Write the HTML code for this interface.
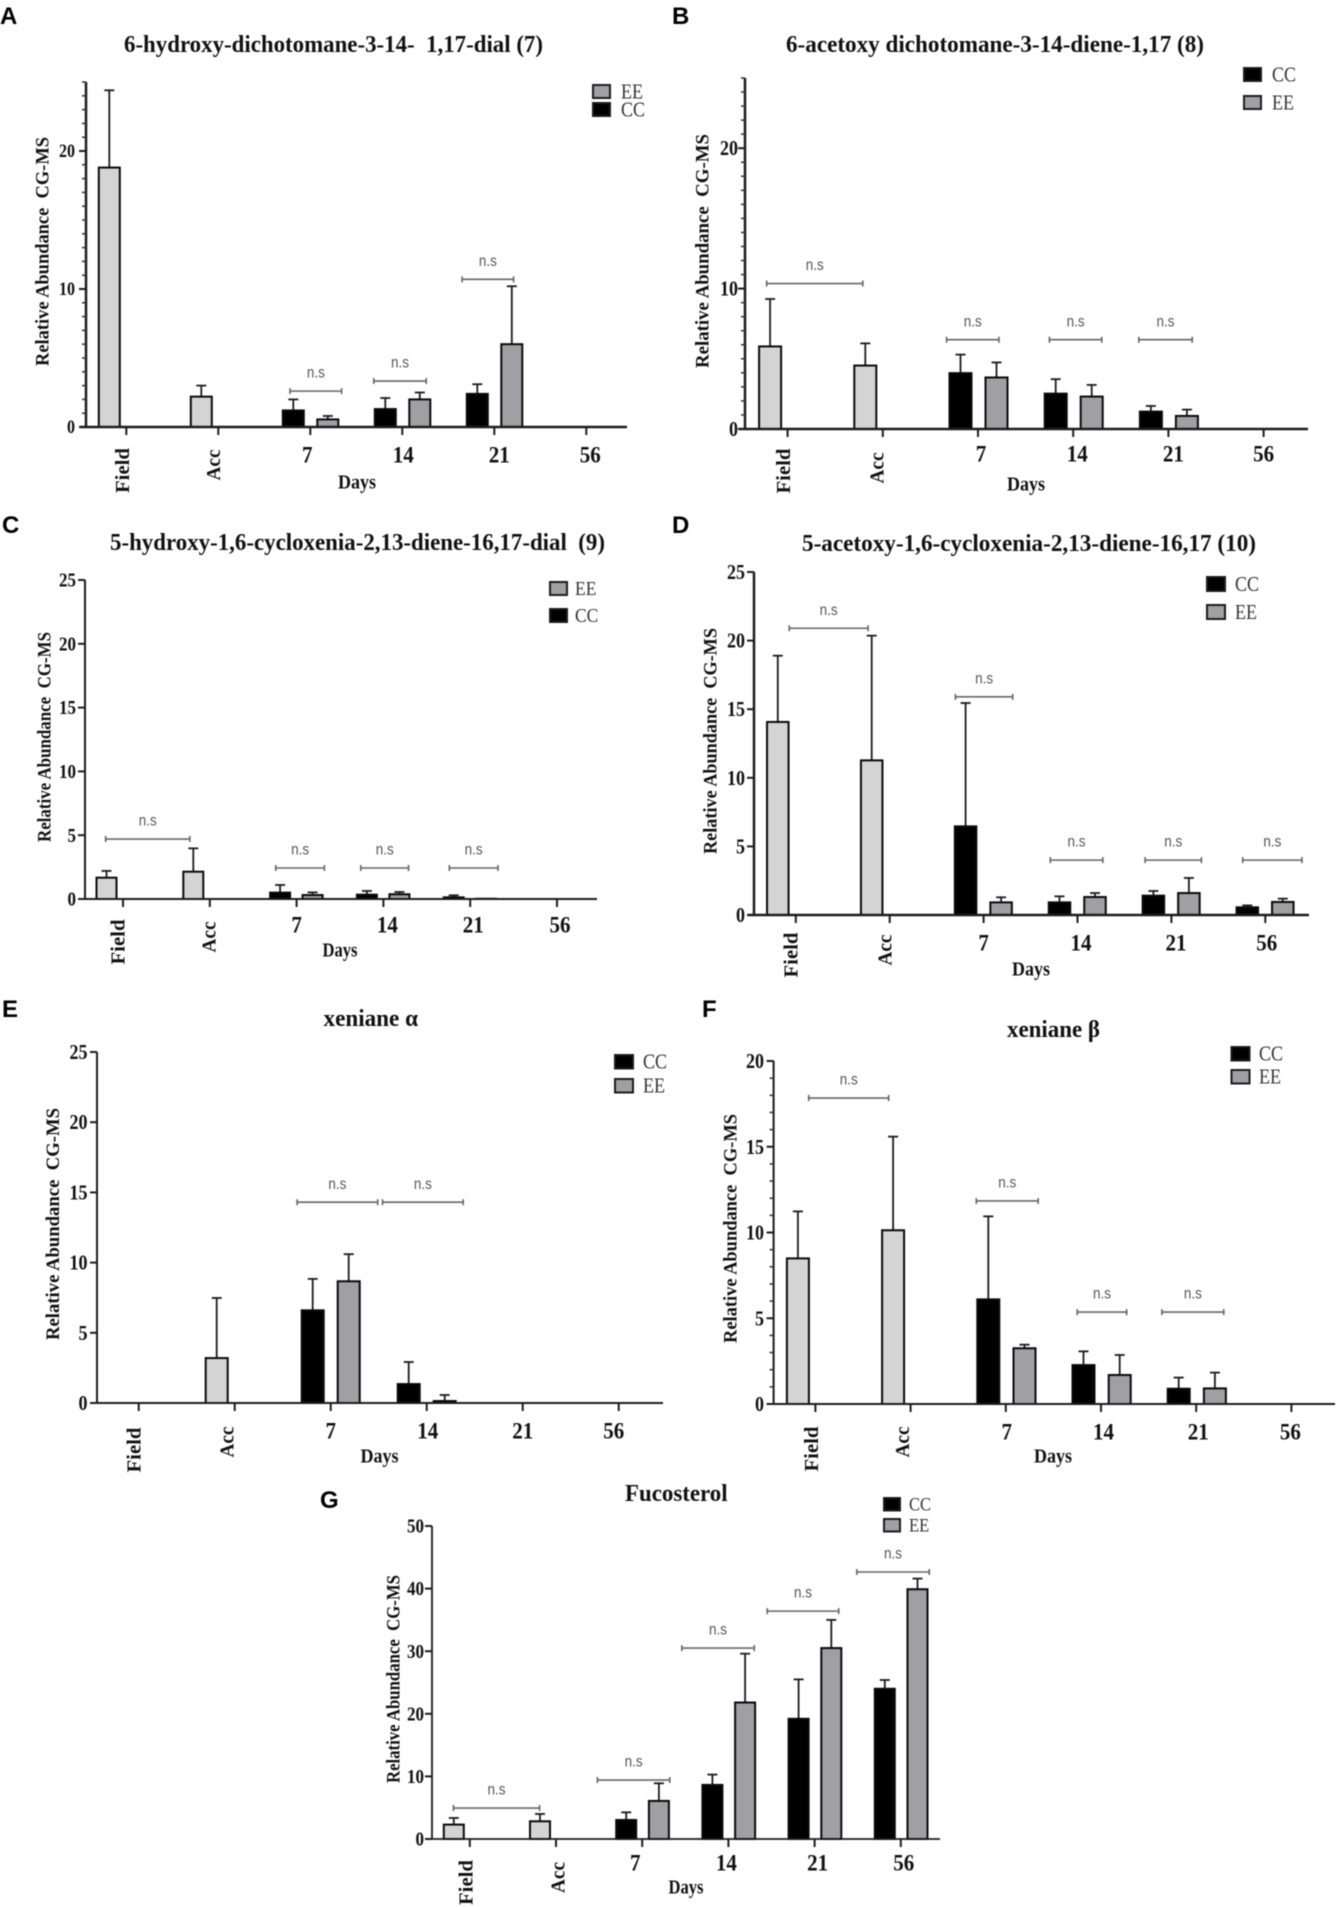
<!DOCTYPE html>
<html lang="en">
<head>
<meta charset="utf-8">
<title>Relative abundance of compounds by CG-MS</title>
<style>
  html, body { margin: 0; padding: 0; background: #fff; }
  #figure { display: block; width: 1338px; height: 1907px; background: #fff; filter: blur(0.5px); }
  text { font-family: "Liberation Serif", serif; }
</style>
</head>
<body>
<svg id="figure" xmlns="http://www.w3.org/2000/svg" width="1338" height="1907" viewBox="0 0 1338 1907"></svg>
<script>
// ---- Shared categories ----
const categories = ['Field', 'Acc', '7', '14', '21', '56'];

// ---- Panel A values ----
const aCC = [18.8, 2.2, 1.2, 1.3, 2.4, null];
const aCCTop = [24.4, 3.0, 2.0, 2.1, 3.1, null];
const aEE = [null, null, 0.55, 2.0, 6.0, null];
const aEETop = [null, null, 0.8, 2.5, 10.2, null];
const aBrackets = [[1.78, 2.34, 2.6], [2.69, 3.26, 3.33], [3.65, 4.21, 10.7]];
const aTicks = [0, 10, 20];

// ---- Panel B values ----
const bCC = [5.88, 4.52, 3.98, 2.52, 1.24, null];
const bCCTop = [9.26, 6.1, 5.3, 3.55, 1.64, null];
const bEE = [null, null, 3.67, 2.31, 0.93, null];
const bEETop = [null, null, 4.74, 3.14, 1.38, null];
const bBrackets = [[-0.22, 0.79, 10.36], [1.67, 2.22, 6.36], [2.75, 3.30, 6.36], [3.69, 4.25, 6.36]];
const bTicks = [0, 10, 20];

// ---- Panel C values ----
const cCC = [1.67, 2.14, 0.5, 0.34, 0.13, null];
const cCCTop = [2.2, 3.97, 1.1, 0.63, 0.29, null];
const cEE = [null, null, 0.31, 0.37, 0.02, null];
const cEETop = [null, null, 0.52, 0.55, null, null];
const cBrackets = [[-0.2, 0.77, 4.7], [1.76, 2.32, 2.43], [2.74, 3.29, 2.43], [3.76, 4.32, 2.43]];
const cTicks = [0, 5, 10, 15, 20, 25];

// ---- Panel D values ----
const dCC = [14.07, 11.27, 6.46, 0.92, 1.41, 0.56];
const dCCTop = [18.9, 20.36, 15.45, 1.36, 1.75, 0.7];
const dEE = [null, null, 0.92, 1.31, 1.6, 0.95];
const dEETop = [null, null, 1.29, 1.6, 2.7, 1.19];
const dBrackets = [[-0.07, 0.77, 20.9], [1.70, 2.31, 15.9], [2.71, 3.27, 4.0], [3.72, 4.32, 4.0], [4.76, 5.39, 4.0]];
const dTicks = [0, 5, 10, 15, 20, 25];

// ---- Panel E values ----
const eCC = [null, 3.2, 6.6, 1.35, null, null];
const eCCTop = [null, 7.48, 8.84, 2.92, null, null];
const eEE = [null, null, 8.67, 0.14, null, null];
const eEETop = [null, null, 10.6, 0.57, null, null];
const eBrackets = [[1.65, 2.49, 14.3], [2.54, 3.38, 14.3]];
const eTicks = [0, 5, 10, 15, 20, 25];

// ---- Panel F values ----
const fCC = [8.49, 10.13, 6.1, 2.27, 0.89, null];
const fCCTop = [11.23, 15.59, 10.94, 3.07, 1.54, null];
const fEE = [null, null, 3.25, 1.69, 0.91, null];
const fEETop = [null, null, 3.46, 2.86, 1.83, null];
const fBrackets = [[-0.07, 0.77, 17.84], [1.69, 2.34, 11.84], [2.75, 3.27, 5.36], [3.64, 4.29, 5.36]];
const fTicks = [0, 5, 10, 15, 20];

// ---- Panel G values ----
const gCC = [2.3, 2.83, 3.04, 8.64, 19.2, 24];
const gCCTop = [3.36, 4.0, 4.26, 10.29, 25.5, 25.4];
const gEE = [null, null, 6.08, 21.8, 30.5, 39.9];
const gEETop = [null, null, 8.9, 29.6, 35, 41.6];
const gBrackets = [[-0.19, 0.81, 4.95], [1.48, 2.32, 9.42], [2.46, 3.30, 30.5], [3.45, 4.28, 36.4], [4.49, 5.33, 42.65]];
const gTicks = [0, 10, 20, 30, 40, 50];

// ---- Panel definitions (data references plus page layout) ----
const panels = [
  { key: 'a', letter: 'A', lx: 0, ly: 24, title: '6-hydroxy-dichotomane-3-14-  1,17-dial (7)', tx0: 124, tx1: 543, ty: 44,
    cc: aCC, ccTop: aCCTop, ee: aEE, eeTop: aEETop, brackets: aBrackets, ticks: aTicks, ymax: 25, minor: 1,
    axisX: 86, top: 82, y0: 427, xL: 80, xR: 627, tick0: 126.3, sp: 92, offL: 17, offR: 17.5, bw: 21, sw: 2.5,
    yl: { x: 42, y0: 137, y1: 366 }, tickFont: 16, tickRight: 75,
    labOff: [-4, -5, -3, 1, 5, 4], fieldY: 470.5, accY: 465, numY: 455, days: { x: 357, y: 482, w: 38 },
    legend: { order: ['EE', 'CC'], sx: 593, sw: 17, sy: [85, 103], sh: 13, tx: 621, font: 18 } },
  { key: 'b', letter: 'B', lx: 672, ly: 24, title: '6-acetoxy dichotomane-3-14-diene-1,17 (8)', tx0: 786, tx1: 1204, ty: 44,
    cc: bCC, ccTop: bCCTop, ee: bEE, eeTop: bEETop, brackets: bBrackets, ticks: bTicks, ymax: 25, minor: 1,
    axisX: 745, top: 78, y0: 429, xL: 739, xR: 1308, tick0: 787.6, sp: 95.2, offL: 17.5, offR: 18.5, bw: 22, sw: 2.5,
    yl: { x: 702, y0: 134, y1: 368 }, tickFont: 18, tickRight: 738,
    labOff: [-4, -6, 3, 4, 5, 0], fieldY: 471, accY: 468, numY: 454, days: { x: 1026, y: 484, w: 38 },
    legend: { order: ['CC', 'EE'], sx: 1244, sw: 17, sy: [68, 96], sh: 13, tx: 1272, font: 18 } },
  { key: 'c', letter: 'C', lx: 2, ly: 533, title: '5-hydroxy-1,6-cycloxenia-2,13-diene-16,17-dial  (9)', tx0: 110, tx1: 605, ty: 542,
    cc: cCC, ccTop: cCCTop, ee: cEE, eeTop: cEETop, brackets: cBrackets, ticks: cTicks, ymax: 25, minor: null,
    axisX: 85, top: 580, y0: 899, xL: 79, xR: 597, tick0: 123, sp: 86.8, offL: 16.5, offR: 16, bw: 20, sw: 2,
    yl: { x: 44, y0: 632, y1: 842 }, tickFont: 17, tickRight: 76,
    labOff: [-5, -1, 0, 4, 3, 3], fieldY: 942, accY: 937, numY: 925, days: { x: 340, y: 950, w: 35 },
    legend: { order: ['EE', 'CC'], sx: 550, sw: 17, sy: [582, 609], sh: 13, tx: 575, font: 17.5 } },
  { key: 'd', letter: 'D', lx: 672, ly: 533, title: '5-acetoxy-1,6-cycloxenia-2,13-diene-16,17 (10)', tx0: 802, tx1: 1256, ty: 543,
    cc: dCC, ccTop: dCCTop, ee: dEE, eeTop: dEETop, brackets: dBrackets, ticks: dTicks, ymax: 25, minor: null,
    axisX: 754, top: 572, y0: 915, xL: 748, xR: 1309, tick0: 795.8, sp: 93.9, offL: 18, offR: 17.5, bw: 21.5, sw: 2.5,
    yl: { x: 710, y0: 628, y1: 854 }, tickFont: 18, tickRight: 745,
    labOff: [-5, -5, 0, 3.5, 4.6, 1.5], fieldY: 955, accY: 950, numY: 943, days: { x: 1031, y: 969, w: 38 },
    legend: { order: ['CC', 'EE'], sx: 1207, sw: 18, sy: [577, 605], sh: 14, tx: 1235, font: 18 } },
  { key: 'e', letter: 'E', lx: 2, ly: 1017, title: 'xeniane α', tx0: 323.5, tx1: 418, ty: 1018,
    cc: eCC, ccTop: eCCTop, ee: eEE, eeTop: eEETop, brackets: eBrackets, ticks: eTicks, ymax: 25, minor: null,
    axisX: 97, top: 1052, y0: 1403, xL: 91, xR: 663, tick0: 138.7, sp: 96, offL: 18, offR: 18, bw: 22, sw: 2,
    yl: { x: 52.5, y0: 1108, y1: 1340 }, tickFont: 18, tickRight: 87.5,
    labOff: [-5, -8, 0, 1, 0, -5], fieldY: 1450, accY: 1442, numY: 1431, days: { x: 379.5, y: 1456, w: 38 },
    legend: { order: ['CC', 'EE'], sx: 615, sw: 18, sy: [1055, 1079], sh: 13.5, tx: 643, font: 18 } },
  { key: 'f', letter: 'F', lx: 702, ly: 1017, title: 'xeniane β', tx0: 1007, tx1: 1100, ty: 1029,
    cc: fCC, ccTop: fCCTop, ee: fEE, eeTop: fEETop, brackets: fBrackets, ticks: fTicks, ymax: 20, minor: 1,
    axisX: 773.6, top: 1061, y0: 1404, xL: 767, xR: 1335, tick0: 815.4, sp: 95.2, offL: 17.5, offR: 18.7, bw: 22, sw: 2,
    yl: { x: 730, y0: 1114, y1: 1343 }, tickFont: 18, tickRight: 764,
    labOff: [-4, -8, 1, 2.5, 2, -1], fieldY: 1449, accY: 1442, numY: 1432, days: { x: 1053, y: 1456, w: 38 },
    legend: { order: ['CC', 'EE'], sx: 1231.5, sw: 18, sy: [1047, 1070], sh: 13.5, tx: 1259, font: 18 } },
  { key: 'g', letter: 'G', lx: 320, ly: 1508, title: 'Fucosterol', tx0: 625, tx1: 727.6, ty: 1493,
    cc: gCC, ccTop: gCCTop, ee: gEE, eeTop: gEETop, brackets: gBrackets, ticks: gTicks, ymax: 50, minor: null,
    axisX: 432, top: 1526, y0: 1839, xL: 426, xR: 940, tick0: 469.8, sp: 86.2, offL: 16, offR: 16.7, bw: 20, sw: 1.8,
    yl: { x: 393.4, y0: 1575, y1: 1783 }, tickFont: 17, tickRight: 424,
    labOff: [-4, 2, -7, -2, 3, 3], fieldY: 1882.5, accY: 1877.5, numY: 1863, days: { x: 686, y: 1887, w: 35 },
    legend: { order: ['CC', 'EE'], sx: 884, sw: 16, sy: [1498, 1519], sh: 12.5, tx: 909, font: 16.5 } }
];

const NS = 'http://www.w3.org/2000/svg';
const figure = document.getElementById('figure');
const COLOR_CC = '#000000';
const COLOR_EE = '#a0a0a4';
const COLOR_BASE = '#d4d4d4';

function mk(tag, attrs, parent, text) {
  const el = document.createElementNS(NS, tag);
  for (const k in attrs) el.setAttribute(k, attrs[k]);
  if (text !== undefined) el.textContent = text;
  parent.appendChild(el);
  return el;
}

function drawBar(g, p, x, value, top, fill, label) {
  const yScale = v => p.y0 - v * (p.y0 - p.top) / p.ymax;
  if (top !== null) {
    const ew = mk('line', { x1: x, x2: x, y1: yScale(value), y2: yScale(top), stroke: '#1c1c1c', 'stroke-width': 1.8 }, g);
    
    
    const cap = mk('line', { x1: x - 5, x2: x + 5, y1: yScale(top), y2: yScale(top), stroke: '#1c1c1c', 'stroke-width': 1.8 }, g);
    
    
  }
  const bar = mk('rect', { x: x - p.bw / 2, y: yScale(value), width: p.bw, height: Math.max(0, p.y0 - yScale(value)), fill: fill, stroke: '#0a0a0a', 'stroke-width': 2 }, g);
  
  
}

function drawPanel(p) {
  const xScale = i => p.tick0 + i * p.sp;
  const yScale = v => p.y0 - v * (p.y0 - p.top) / p.ymax;

  const g = mk('g', {}, figure);
  
  

  const letter = mk('text', { x: p.lx, y: p.ly, 'font-size': 24, 'font-weight': 700, fill: '#000', style: 'font-family:"Liberation Sans",sans-serif' }, g, p.letter);
  
  

  const title = mk('text', { x: p.tx0, y: p.ty, dy: '0.33em', 'font-size': 24, 'font-weight': 700, fill: '#111', textLength: p.tx1 - p.tx0, lengthAdjust: 'spacingAndGlyphs', style: 'white-space:pre' }, g, p.title);
  
  

  // y-axis
  const yAxis = mk('line', { x1: p.axisX, x2: p.axisX, y1: p.top, y2: p.y0, stroke: '#1c1c1c', 'stroke-width': p.sw }, g);
  
  

  if (p.minor) {
    for (let v = 0; v <= p.ymax; v += p.minor) {
      const mt = mk('line', { x1: p.axisX - 4, x2: p.axisX, y1: yScale(v), y2: yScale(v), stroke: '#333', 'stroke-width': 1.5 }, g);
      
      
    }
  }
  p.ticks.forEach(v => {
    const t = mk('line', { x1: p.axisX - 7, x2: p.axisX, y1: yScale(v), y2: yScale(v), stroke: '#1c1c1c', 'stroke-width': 2 }, g);
    
    
    const lab = mk('text', { x: p.tickRight, y: yScale(v), dy: '0.33em', 'text-anchor': 'end', 'font-size': p.tickFont * 1.18, 'font-weight': 700, fill: '#111', textLength: String(v).length * 0.5 * p.tickFont, lengthAdjust: 'spacingAndGlyphs' }, g, String(v));
    
    
  });

  // y-axis title
  const ylx = p.yl.x;
  const yly = (p.yl.y0 + p.yl.y1) / 2;
  const yTitle = mk('text', { x: ylx, y: yly, dy: '0.33em', 'text-anchor': 'middle', 'font-size': 19, 'font-weight': 700, fill: '#111', textLength: p.yl.y1 - p.yl.y0, lengthAdjust: 'spacingAndGlyphs', transform: 'rotate(-90 ' + ylx + ' ' + yly + ')', style: 'white-space:pre' }, g, 'Relative Abundance  CG-MS');
  
  

  // bars and error bars
  categories.forEach((cat, i) => {
    if (p.cc[i] !== null) {
      drawBar(g, p, xScale(i) - p.offL, p.cc[i], p.ccTop[i], i < 2 ? COLOR_BASE : COLOR_CC, 'cc-' + cat.toLowerCase());
    }
    if (p.ee[i] !== null) {
      drawBar(g, p, xScale(i) + p.offR, p.ee[i], p.eeTop[i], COLOR_EE, 'ee-' + cat.toLowerCase());
    }
  });

  // x-axis
  const xAxis = mk('line', { x1: p.xL, x2: p.xR, y1: p.y0, y2: p.y0, stroke: '#1c1c1c', 'stroke-width': p.sw }, g);
  
  

  categories.forEach((cat, i) => {
    const t = mk('line', { x1: xScale(i), x2: xScale(i), y1: p.y0, y2: p.y0 + 8, stroke: '#1c1c1c', 'stroke-width': 2 }, g);
    
    
    const lx = xScale(i) + p.labOff[i];
    let lab;
    if (i < 2) {
      const ly = i === 0 ? p.fieldY : p.accY;
      const len = i === 0 ? 45 : 31;
      lab = mk('text', { x: lx, y: ly, dy: '0.33em', 'text-anchor': 'middle', 'font-size': 20, 'font-weight': 700, fill: '#111', textLength: len, lengthAdjust: 'spacingAndGlyphs', transform: 'rotate(-90 ' + lx + ' ' + ly + ')' }, g, cat);
    } else {
      lab = mk('text', { x: lx, y: p.numY, dy: '0.33em', 'text-anchor': 'middle', 'font-size': 23, 'font-weight': 700, fill: '#111', textLength: cat.length * 10.5, lengthAdjust: 'spacingAndGlyphs' }, g, cat);
    }
    
    
  });

  const days = mk('text', { x: p.days.x, y: p.days.y, dy: '0.33em', 'text-anchor': 'middle', 'font-size': 20, 'font-weight': 700, fill: '#111', textLength: p.days.w, lengthAdjust: 'spacingAndGlyphs' }, g, 'Days');
  
  

  // significance brackets
  p.brackets.forEach(b => {
    const x0 = xScale(b[0]);
    const x1 = xScale(b[1]);
    const y = yScale(b[2]);
    const br = mk('path', { d: 'M' + x0 + ' ' + (y - 3) + 'V' + (y + 3) + 'M' + x0 + ' ' + y + 'H' + x1 + 'M' + x1 + ' ' + (y - 3) + 'V' + (y + 3), fill: 'none', stroke: '#666', 'stroke-width': 1.6 }, g);
    
    
    const ns = mk('text', { x: (x0 + x1) / 2, y: y - 19, dy: '0.35em', 'text-anchor': 'middle', 'font-size': 16, fill: '#555', textLength: 18, lengthAdjust: 'spacingAndGlyphs', style: 'font-family:"Liberation Sans",sans-serif' }, g, 'n.s');
    
    
  });

  // legend
  p.legend.order.forEach((name, i) => {
    const sy = p.legend.sy[i];
    const sh = p.legend.sh;
    const sw = mk('rect', { x: p.legend.sx, y: sy, width: p.legend.sw, height: sh, fill: name === 'CC' ? COLOR_CC : COLOR_EE, stroke: '#1c1c1c', 'stroke-width': 2 }, g);
    
    
    const tx = mk('text', { x: p.legend.tx, y: sy + sh / 2, dy: '0.33em', 'font-size': p.legend.font * 1.15, fill: '#333', textLength: p.legend.font * (name === 'CC' ? 1.334 : 1.222), lengthAdjust: 'spacingAndGlyphs' }, g, name);
    
    
  });
}

panels.forEach(drawPanel);
</script>
</body>
</html>
